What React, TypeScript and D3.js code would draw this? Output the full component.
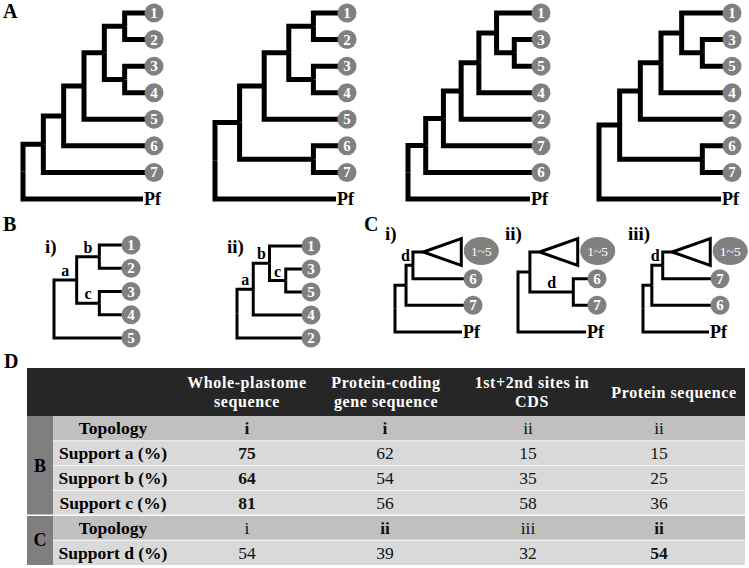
import React from "react";
import * as d3 from "d3";

const FONT = "'Liberation Serif', 'Times New Roman', Times, serif";
const GREY = "#808080";

// ---- Panel A topologies (leaves listed top to bottom) ----
const treeA1 = [[[[[["1", "2"], ["3", "4"]], "5"], "6"], "7"], "Pf"];
const treeA2 = [[[[["1", "2"], ["3", "4"]], "5"], ["6", "7"]], "Pf"];
const treeA3 = [[[[[["1", ["3", "5"]], "4"], "2"], "7"], "6"], "Pf"];
const treeA4 = [[[[["1", ["3", "5"]], "4"], "2"], ["6", "7"]], "Pf"];

// ---- Panel B topologies (labelled clades) ----
const treeBi = [{ l: "a", c: [{ l: "b", c: ["1", "2"] }, { l: "c", c: ["3", "4"] }] }, "5"];
const treeBii = [{ l: "a", c: [{ l: "b", c: ["1", { l: "c", c: ["3", "5"] }] }, "4"] }, "2"];

// ---- Panel C topologies (p = relative node position along the tree) ----
const treeCi = [{ p: 0.16, c: [{ l: "d", p: 0.26, c: [{ tri: "1~5", p: 0.41 }, "6"] }, "7"] }, "Pf"];
const treeCii = [{ p: 0.17, c: [{ tri: "1~5", p: 0.31 }, { l: "d", p: 0.79, c: ["6", "7"] }] }, "Pf"];
const treeCiii = [{ p: 0.13, c: [{ l: "d", p: 0.29, c: [{ tri: "1~5", p: 0.43 }, "7"] }, "6"] }, "Pf"];

const subLabelsB = ["i)", "ii)"];
const subLabelsC = ["i)", "ii)", "iii)"];

// ---- Panel D table ----
const headers = [["Whole-plastome", "sequence"], ["Protein-coding", "gene sequence"], ["1st+2nd sites in", "CDS"], ["Protein sequence"]];
const rowGroups = ["B", "B", "B", "B", "C", "C"];
const rowLabels = ["Topology", "Support a (%)", "Support b (%)", "Support c (%)", "Topology", "Support d (%)"];
const wholePlastome = ["i", "75", "64", "81", "i", "54"];
const proteinCoding = ["i", "62", "54", "56", "ii", "39"];
const firstSecondSites = ["ii", "15", "35", "58", "iii", "32"];
const proteinSequence = ["ii", "15", "25", "36", "ii", "54"];
const boldWhole = [true, true, true, true, false, false];
const boldCoding = [true, false, false, false, true, false];
const boldSites = [false, false, false, false, false, false];
const boldProtein = [false, false, false, false, true, true];

const kids = (d: any) => (Array.isArray(d) ? d : d && typeof d === "object" && d.c ? d.c : null);

type TreeProps = {
  data: any;
  x0: number;
  x1: number;
  y0: number;
  y1: number;
  mode: "cluster" | "pos";
  sw: number;
  r: number;
};

function Tree({ data, x0, x1, y0, y1, mode, sw, r }: TreeProps) {
  const root: any = d3.hierarchy(data, kids);
  const n = root.leaves().length;
  const step = (y1 - y0) / (n - 1);
  d3.cluster().size([step * n, 1]).separation(() => 1)(root);
  const xs = d3.scaleLinear().domain([0, 1]).range([x0, x1]);
  root.each((nd: any) => {
    nd.py = y0 - step / 2 + nd.x;
    let f: number;
    if (mode === "cluster") f = nd.y;
    else if (nd.depth === 0) f = 0;
    else if (nd.data && typeof nd.data === "object" && !Array.isArray(nd.data) && nd.data.p != null) f = nd.data.p;
    else f = 1;
    nd.px = xs(f);
  });
  const nodes = root.descendants();
  const els: any[] = [];
  nodes.forEach((nd: any, i: number) => {
    if (!nd.parent) return;
    const p = nd.parent;
    const isPf = nd.data === "Pf";
    const endX = isPf ? nd.px - 2 : nd.px;
    els.push(
      <path
        key={"l" + i}
        d={`M${p.px},${p.py}V${nd.py}H${endX}`}
        fill="none"
        stroke="#000"
        strokeWidth={sw}
        strokeLinejoin="miter"
      />
    );
  });
  nodes.forEach((nd: any, i: number) => {
    const d = nd.data;
    if (d && typeof d === "object" && !Array.isArray(d) && d.l && nd.parent) {
      const mid = (nd.parent.px + nd.px) / 2;
      const lx = Math.min(mid, nd.px - sw / 2 - 6);
      els.push(
        <text key={"t" + i} x={lx} y={nd.py - 4} textAnchor="middle" fontWeight="bold" fontSize={16}>
          {d.l}
        </text>
      );
    }
    if (!nd.children) {
      if (d === "Pf") {
        els.push(
          <text key={"pf" + i} x={nd.px - 1} y={nd.py + 6} fontWeight="bold" fontSize={18}>
            Pf
          </text>
        );
      } else if (typeof d === "string") {
        els.push(
          <g key={"c" + i}>
            <circle cx={nd.px + 9} cy={nd.py} r={r} fill={GREY} />
            <text x={nd.px + 9} y={nd.py + 5} textAnchor="middle" fontWeight="bold" fontSize={15} fill="#fff">
              {d}
            </text>
          </g>
        );
      } else if (d && d.tri) {
        const ax = nd.px;
        const w = 38;
        els.push(
          <g key={"tri" + i}>
            <path
              d={`M${ax},${nd.py}L${ax + w},${nd.py - 13.5}L${ax + w},${nd.py + 13.5}Z`}
              fill="#fff"
              stroke="#000"
              strokeWidth={sw}
              strokeLinejoin="miter"
            />
            <ellipse cx={ax + w + 20} cy={nd.py - 1} rx={17.5} ry={14} fill={GREY} />
            <text x={ax + w + 20} y={nd.py + 3.5} textAnchor="middle" fontSize={13.5} fill="#fff">
              {d.tri}
            </text>
          </g>
        );
      }
    }
  });
  return <g>{els}</g>;
}

function Table() {
  const x0 = 27;
  const xg = 53;
  const xr = 745;
  const headTop = 368;
  const headBot = 416;
  const rows = d3.scaleBand<number>().domain(d3.range(rowLabels.length)).range([headBot, 565]);
  const bw = rows.bandwidth();
  const headCenters = [247, 386, 532, 674];
  const valCenters = [247, 385, 528, 659];
  const series = [wholePlastome, proteinCoding, firstSecondSites, proteinSequence];
  const bolds = [boldWhole, boldCoding, boldSites, boldProtein];
  const groups = Array.from(new Set(rowGroups));
  const fs = 17.5;
  const hs = 16;
  return (
    <g>
      <rect x={x0} y={headTop} width={xr - x0} height={headBot - headTop} fill="#262626" />
      {rowLabels.map((lab, i) => (
        <rect key={"r" + i} x={xg} y={rows(i)} width={xr - xg} height={bw} fill={lab === "Topology" ? "#c0c0c0" : "#d9d9d9"} />
      ))}
      {groups.map((g) => {
        const idx = rowGroups.map((v, i) => (v === g ? i : -1)).filter((i) => i >= 0);
        const top = rows(idx[0]) as number;
        const bot = (rows(idx[idx.length - 1]) as number) + bw;
        return (
          <g key={"g" + g}>
            <rect x={x0} y={top} width={xg - x0} height={bot - top} fill="#7f7f7f" />
            <text x={(x0 + xg) / 2} y={(top + bot) / 2 + 6} textAnchor="middle" fontWeight="bold" fontSize={18}>
              {g}
            </text>
          </g>
        );
      })}
      {d3.range(1, rowLabels.length).map((i) => (
        <line
          key={"s" + i}
          x1={rowGroups[i] !== rowGroups[i - 1] ? x0 : xg}
          x2={xr}
          y1={rows(i)}
          y2={rows(i)}
          stroke="#fff"
          strokeWidth={rowGroups[i] !== rowGroups[i - 1] ? 1.5 : 0.8}
        />
      ))}
      {headers.map((h, j) =>
        h.length === 2 ? (
          <g key={"h" + j}>
            <text x={headCenters[j]} y={388} textAnchor="middle" fontWeight="bold" fontSize={hs} letterSpacing={0.6} fill="#fff">
              {h[0]}
            </text>
            <text x={headCenters[j]} y={407} textAnchor="middle" fontWeight="bold" fontSize={hs} letterSpacing={0.6} fill="#fff">
              {h[1]}
            </text>
          </g>
        ) : (
          <text key={"h" + j} x={headCenters[j]} y={398} textAnchor="middle" fontWeight="bold" fontSize={hs} letterSpacing={0.6} fill="#fff">
            {h[0]}
          </text>
        )
      )}
      {rowLabels.map((lab, i) => (
        <text key={"rl" + i} x={113} y={(rows(i) as number) + bw / 2 + 6} textAnchor="middle" fontWeight="bold" fontSize={fs}>
          {lab}
        </text>
      ))}
      {series.map((s, j) =>
        s.map((v, i) => (
          <text
            key={"v" + j + "-" + i}
            x={valCenters[j]}
            y={(rows(i) as number) + bw / 2 + 6}
            textAnchor="middle"
            fontWeight={bolds[j][i] ? "bold" : "normal"}
            fontSize={fs}
            fill="#111"
          >
            {v}
          </text>
        ))
      )}
    </g>
  );
}

export default function App() {
  return (
    <svg
      width={749}
      height={568}
      viewBox="0 0 749 568"
      fontFamily={FONT}
      style={{ position: "absolute", left: 0, top: 0, display: "block" }}
    >
      <rect width={749} height={568} fill="#fff" />
      {/* Panel letters */}
      <text x={3} y={18} fontWeight="bold" fontSize={20}>A</text>
      <text x={3} y={231} fontWeight="bold" fontSize={20}>B</text>
      <text x={364} y={231} fontWeight="bold" fontSize={20}>C</text>
      <text x={4} y={368} fontWeight="bold" fontSize={20}>D</text>

      {/* Panel A */}
      <Tree data={treeA1} x0={23} x1={145} y0={13} y1={199} mode="cluster" sw={5} r={9.5} />
      <Tree data={treeA2} x0={215} x1={338} y0={13} y1={199} mode="cluster" sw={5} r={9.5} />
      <Tree data={treeA3} x0={408} x1={532} y0={13} y1={199} mode="cluster" sw={5} r={9.5} />
      <Tree data={treeA4} x0={599} x1={723} y0={13} y1={199} mode="cluster" sw={5} r={9.5} />

      {/* Panel B */}
      <text x={45} y={253} fontWeight="bold" fontSize={19}>{subLabelsB[0]}</text>
      <text x={227} y={253} fontWeight="bold" fontSize={19}>{subLabelsB[1]}</text>
      <Tree data={treeBi} x0={54} x1={122} y0={245} y1={338} mode="cluster" sw={3} r={9.5} />
      <Tree data={treeBii} x0={237} x1={302} y0={246} y1={338} mode="cluster" sw={3} r={9.5} />

      {/* Panel C */}
      <text x={385} y={240} fontWeight="bold" fontSize={19}>{subLabelsC[0]}</text>
      <text x={505} y={240} fontWeight="bold" fontSize={19}>{subLabelsC[1]}</text>
      <text x={628} y={240} fontWeight="bold" fontSize={19}>{subLabelsC[2]}</text>
      <Tree data={treeCi} x0={395} x1={464} y0={252} y1={332} mode="pos" sw={3} r={9.5} />
      <Tree data={treeCii} x0={518} x1={588} y0={252} y1={332} mode="pos" sw={3} r={9.5} />
      <Tree data={treeCiii} x0={643} x1={711} y0={252} y1={332} mode="pos" sw={3} r={9.5} />

      {/* Panel D */}
      <Table />
    </svg>
  );
}
